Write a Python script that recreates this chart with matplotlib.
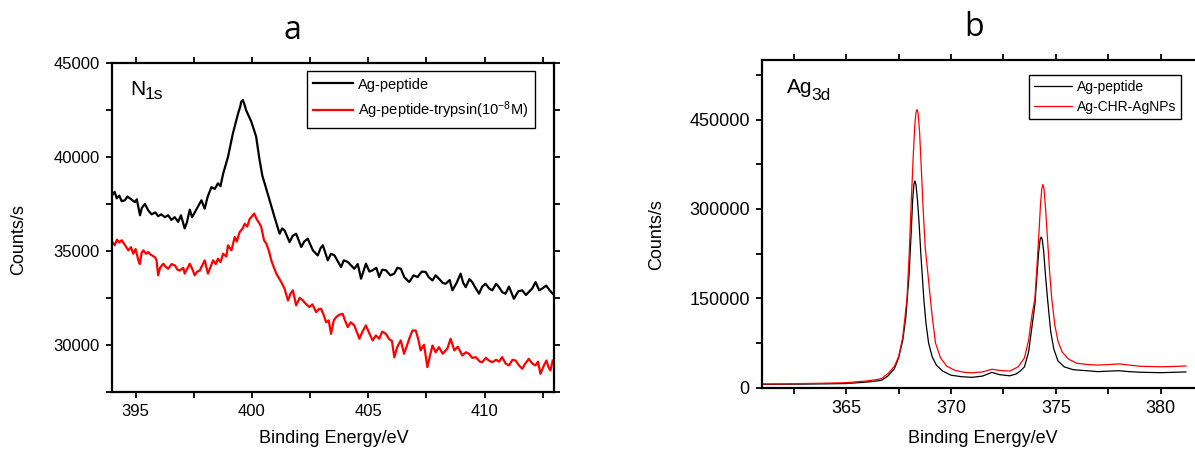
import numpy as np
import matplotlib
matplotlib.use('Agg')
import matplotlib.pyplot as plt
from matplotlib.ticker import MultipleLocator

plt.rcParams['font.family'] = ['Liberation Sans', 'DejaVu Sans']
plt.rcParams['mathtext.fontset'] = 'custom'
plt.rcParams['mathtext.rm'] = 'Liberation Sans'
plt.rcParams['mathtext.it'] = 'Liberation Sans'

# N1s spectra (panel a)
n1s_peptide_x = [394.00, 394.10, 394.19, 394.30, 394.40, 394.54, 394.65, 394.97, 395.05, 395.19,
                 395.27, 395.40, 395.55, 395.69, 395.85, 395.97, 396.10, 396.26, 396.40, 396.54,
                 396.68, 396.83, 396.95, 397.11, 397.20, 397.33, 397.43, 397.54, 397.65, 397.83,
                 397.97, 398.10, 398.26, 398.40, 398.54, 398.65, 398.76, 398.97, 399.18, 399.40,
                 399.50, 399.54, 399.61, 399.68, 399.75, 399.97, 400.18, 400.33, 400.45, 400.55,
                 400.76, 400.97, 401.19, 401.30, 401.40, 401.62, 401.75, 401.90, 402.12, 402.25,
                 402.40, 402.62, 402.83, 402.95, 403.05, 403.26, 403.40, 403.55, 403.83, 403.95,
                 404.12, 404.40, 404.55, 404.69, 404.90, 405.05, 405.19, 405.35, 405.47, 405.60,
                 405.76, 405.95, 406.12, 406.25, 406.40, 406.55, 406.76, 406.95, 407.12, 407.30,
                 407.47, 407.60, 407.76, 407.90, 408.04, 408.20, 408.33, 408.50, 408.62, 408.80,
                 408.97, 409.08, 409.19, 409.35, 409.47, 409.60, 409.76, 409.90, 410.04, 410.20,
                 410.33, 410.50, 410.62, 410.76, 410.90, 411.05, 411.26, 411.45, 411.62, 411.78,
                 411.90, 412.05, 412.19, 412.35, 412.47, 412.65, 412.80, 412.93]
n1s_peptide_y = [37970, 38150, 37800, 37950, 37650, 37700, 37900, 37600, 37750, 36900,
                 37300, 37500, 37150, 36950, 37050, 36850, 36950, 36800, 36900, 36650,
                 36800, 36550, 36900, 36200, 36500, 37200, 36800, 37050, 37300, 37700,
                 37250, 37900, 38400, 38300, 38600, 38450, 39100, 40000, 41250, 42300,
                 42700, 42950, 43040, 42800, 42500, 41900, 41100, 39840, 39000, 38590,
                 37700, 36810, 35920, 36200, 36100, 35470, 35800, 35920, 35210, 35500,
                 35650, 35030, 34760, 35150, 35300, 34500, 34850, 34760, 34140, 34500,
                 34410, 34050, 34300, 33520, 34320, 33900, 33970, 34100, 33610, 34000,
                 33970, 33700, 33790, 34100, 34050, 33600, 33340, 33700, 33610, 33900,
                 33880, 33600, 33430, 33700, 33520, 33300, 33250, 33450, 32900, 33300,
                 33790, 33300, 33070, 33500, 33340, 33050, 32720, 33100, 33250, 33000,
                 32900, 33250, 33070, 32800, 32720, 33100, 32450, 32850, 32900, 32650,
                 32810, 33000, 33340, 32900, 32990, 33150, 32900, 32720]

n1s_trypsin_x = [394.00, 394.10, 394.20, 394.30, 394.40, 394.55, 394.69, 394.80, 394.90, 395.00,
                 395.12, 395.18, 395.26, 395.33, 395.45, 395.54, 395.65, 395.83, 395.90, 395.97,
                 396.05, 396.19, 396.30, 396.40, 396.55, 396.69, 396.80, 396.90, 397.05, 397.11,
                 397.33, 397.45, 397.54, 397.65, 397.76, 397.97, 398.11, 398.33, 398.45, 398.54,
                 398.65, 398.76, 398.90, 398.97, 399.12, 399.26, 399.35, 399.47, 399.60, 399.69,
                 399.80, 399.90, 399.98, 400.10, 400.20, 400.33, 400.40, 400.52, 400.62, 400.73,
                 400.83, 400.95, 401.05, 401.26, 401.40, 401.55, 401.65, 401.76, 401.90, 402.05,
                 402.19, 402.30, 402.47, 402.60, 402.76, 402.88, 402.97, 403.08, 403.19, 403.30,
                 403.40, 403.52, 403.62, 403.75, 403.90, 404.00, 404.12, 404.25, 404.40, 404.50,
                 404.62, 404.75, 404.90, 405.05, 405.19, 405.33, 405.47, 405.60, 405.76, 405.90,
                 406.02, 406.12, 406.25, 406.40, 406.54, 406.69, 406.76, 406.90, 407.04, 407.15,
                 407.25, 407.40, 407.54, 407.65, 407.76, 407.90, 408.04, 408.20, 408.40, 408.54,
                 408.70, 408.85, 409.04, 409.20, 409.33, 409.47, 409.62, 409.80, 409.90, 410.05,
                 410.19, 410.33, 410.50, 410.62, 410.76, 410.90, 411.05, 411.20, 411.33, 411.48,
                 411.62, 411.75, 411.90, 412.05, 412.19, 412.30, 412.40, 412.55, 412.66, 412.75,
                 412.83, 412.93]
n1s_trypsin_y = [35480, 35300, 35600, 35450, 35570, 35300, 35030, 35200, 34850, 35100,
                 34500, 34300, 34900, 35030, 34850, 34940, 34800, 34670, 34500, 33700,
                 34100, 34320, 34150, 34050, 34300, 34230, 34000, 33960, 34100, 33790,
                 34320, 34000, 33700, 33900, 33960, 34500, 33790, 34500, 34300, 34590,
                 34400, 34850, 34700, 35300, 35030, 35740, 35500, 36000, 36200, 36450,
                 36300, 36700, 36810, 36990, 36700, 36450, 36280, 35570, 35390, 35000,
                 34500, 34100, 33790, 33340, 33000, 32360, 32700, 32900, 32100, 32500,
                 32360, 32200, 32010, 32150, 31740, 31900, 31920, 31600, 31200, 31300,
                 30580, 31300, 31470, 31600, 31650, 31300, 30940, 31200, 31030, 30700,
                 30320, 30700, 31030, 30600, 30230, 30500, 30320, 30700, 30580, 30300,
                 30200, 29330, 29900, 30230, 29520, 30050, 30320, 30760, 30760, 30300,
                 29700, 30000, 28810, 29400, 29960, 29600, 29870, 29520, 29800, 30320,
                 29700, 29900, 29430, 29600, 29520, 29300, 29340, 29100, 29070, 29300,
                 29160, 29070, 29200, 29100, 29340, 29000, 28900, 29200, 29160, 28900,
                 28720, 29000, 29250, 29000, 28900, 29100, 28450, 28900, 29160, 28800,
                 28630, 29160]

# Ag3d spectra (panel b)
ag_peptide_x = [361.0, 362.0, 363.0, 364.0, 365.0, 366.0, 366.5, 366.7, 367.0, 367.3,
                367.5, 367.7, 367.85, 368.0, 368.1, 368.17, 368.23, 368.28, 368.33, 368.4,
                368.48, 368.56, 368.7, 368.8, 368.93, 369.1, 369.3, 369.6, 370.0, 370.5,
                371.0, 371.5, 371.95, 372.3, 372.8, 373.1, 373.3, 373.5, 373.7, 373.85,
                374.0, 374.1, 374.18, 374.25, 374.3, 374.35, 374.42, 374.5, 374.6, 374.75,
                374.9, 375.1, 375.4, 375.8, 376.0, 376.5, 377.0, 377.6, 378.0, 378.5,
                379.0, 380.0, 381.2]
ag_peptide_y = [5700, 5900, 6100, 6500, 7000, 9500, 11500, 12700, 20000, 32000,
                50000, 80000, 120000, 190000, 260000, 315000, 342000, 347000, 340000, 315000,
                275000, 225000, 150000, 110000, 75000, 52000, 38000, 28000, 21000, 18500,
                17400, 19500, 25800, 22000, 20000, 23000, 28000, 35000, 60000, 100000,
                140000, 190000, 228000, 249000, 253000, 249000, 228000, 190000, 150000, 95000,
                65000, 45000, 35000, 30500, 29700, 28500, 27000, 28000, 28500, 27000,
                26000, 25200, 26500]

ag_agnps_x = [361.0, 362.0, 363.0, 364.0, 365.0, 366.0, 366.5, 366.7, 367.0, 367.3,
              367.5, 367.7, 367.9, 368.0, 368.1, 368.2, 368.27, 368.33, 368.38, 368.43,
              368.5, 368.58, 368.67, 368.77, 368.9, 369.0, 369.1, 369.26, 369.5, 369.8,
              370.2, 370.6, 371.0, 371.5, 371.95, 372.3, 372.8, 373.2, 373.5, 373.7,
              373.85, 374.0, 374.1, 374.2, 374.27, 374.33, 374.38, 374.43, 374.5, 374.6,
              374.7, 374.8, 374.95, 375.1, 375.3, 375.6, 376.0, 376.5, 377.0, 377.6,
              378.0, 378.5, 379.0, 380.0, 380.5, 381.2]
ag_agnps_y = [6200, 6500, 7000, 7600, 8400, 11500, 14000, 15700, 24000, 36000,
              52000, 85000, 150000, 220000, 310000, 390000, 440000, 462000, 467000, 460000,
              430000, 370000, 300000, 235000, 190000, 155000, 120000, 75000, 50000, 36000,
              29000, 26000, 25000, 26500, 31000, 29000, 28000, 35000, 50000, 80000,
              120000, 150000, 205000, 265000, 310000, 334000, 341000, 335000, 305000, 250000,
              195000, 150000, 105000, 78000, 60000, 48000, 41000, 39000, 38000, 39000,
              40000, 38000, 36000, 35200, 35500, 36500]

fig = plt.figure(figsize=(11.95, 4.5), dpi=100)

ax1 = fig.add_axes([0.0940, 0.1296, 0.3699, 0.7298])
ax1.plot(n1s_peptide_x, n1s_peptide_y, color='black', lw=1.6, label='Ag-peptide')
ax1.plot(n1s_trypsin_x, n1s_trypsin_y, color='red', lw=1.6,
         label=r'Ag-peptide-trypsin(10$^{\mathregular{-8}}$M)')
ax1.set_xlim(394, 413)
ax1.set_ylim(27500, 45000)
ax1.xaxis.set_major_locator(MultipleLocator(5))
ax1.xaxis.set_minor_locator(MultipleLocator(2.5))
ax1.yaxis.set_major_locator(MultipleLocator(5000))
ax1.yaxis.set_minor_locator(MultipleLocator(2500))
ax1.set_xlabel('Binding Energy/eV', fontsize=13)
ax1.set_ylabel('Counts/s', fontsize=13)
ax1.xaxis.set_label_coords(0.5, -0.118)
ax1.yaxis.set_label_coords(-0.193, 0.462)
ax1.text(0.040, 0.9035, 'N', transform=ax1.transAxes, fontsize=15)
ax1.text(0.073, 0.890, '1s', transform=ax1.transAxes, fontsize=12.5)
leg1 = ax1.legend(loc='upper left', bbox_to_anchor=(0.44, 0.9766), borderaxespad=0,
                  fontsize=10.5, fancybox=False, edgecolor='black', handlelength=2.7,
                  handletextpad=0.35, borderpad=0.45, labelspacing=0.55, framealpha=1)
leg1.get_frame().set_linewidth(1.0)

ax2 = fig.add_axes([0.6379, 0.1384, 0.3773, 0.7282])
ax2.plot(ag_peptide_x, ag_peptide_y, color='black', lw=0.9, label='Ag-peptide')
ax2.plot(ag_agnps_x, ag_agnps_y, color='red', lw=0.9, label='Ag-CHR-AgNPs')
ax2.set_xlim(361, 382.5)
ax2.set_ylim(0, 550000)
ax2.xaxis.set_major_locator(MultipleLocator(5))
ax2.xaxis.set_minor_locator(MultipleLocator(2.5))
ax2.yaxis.set_major_locator(MultipleLocator(150000))
ax2.yaxis.set_minor_locator(MultipleLocator(75000))
ax2.set_xlabel('Binding Energy/eV', fontsize=13)
ax2.set_ylabel('Counts/s', fontsize=13)
ax2.xaxis.set_label_coords(0.4895, -0.129)
ax2.yaxis.set_label_coords(-0.216, 0.466)
ax2.text(0.054, 0.898, 'Ag', transform=ax2.transAxes, fontsize=15)
ax2.text(0.108, 0.879, '3d', transform=ax2.transAxes, fontsize=12.5)
leg2 = ax2.legend(loc='upper left', bbox_to_anchor=(0.5915, 0.954), borderaxespad=0,
                  fontsize=10, fancybox=False, edgecolor='black', handlelength=2.75,
                  handletextpad=0.35, borderpad=0.35, labelspacing=0.45, framealpha=1)
leg2.get_frame().set_linewidth(1.0)

for ax, size in [(ax1, 12), (ax2, 13)]:
    for s in ax.spines.values():
        s.set_linewidth(1.6)
    ax.tick_params(which='both', direction='out', top=True, right=True,
                   length=4, width=1.3, labelsize=size, pad=5)

fig.text(0.2448, 0.9133, 'a', ha='center', va='baseline', fontsize=23, family='Open Sans')
fig.text(0.815, 0.92, 'b', ha='center', va='baseline', fontsize=23, family='Open Sans')

fig.savefig('out.png', dpi=100)
